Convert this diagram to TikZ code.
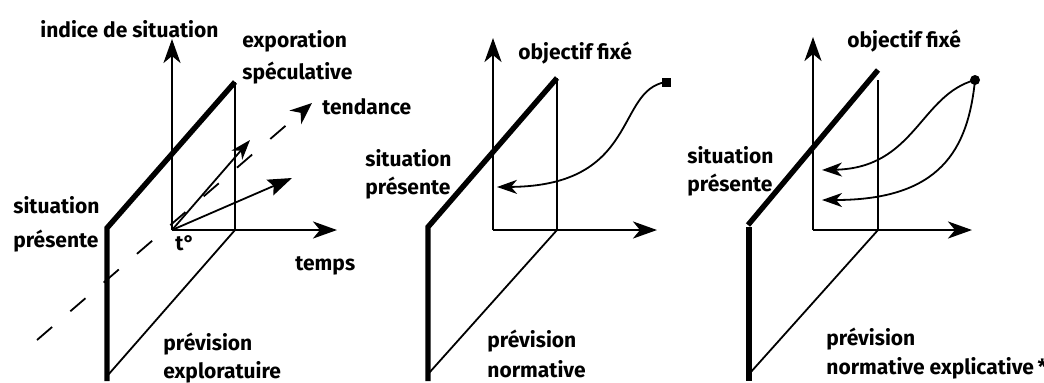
\documentclass[tikz,border=0pt]{standalone}
\usepackage{fontspec}
\setmainfont{Fira Sans}
\usetikzlibrary{arrows.meta, positioning, calc}

\begin{document}
\begin{tikzpicture}[x=0.5pt, y=-0.5pt,
  axis/.style={-{Stealth[length=12pt, width=8.5pt, inset=3.5pt]}, line width=1.4pt},
  thickedge/.style={line width=2.7pt},
  thinedge/.style={line width=0.9pt},
  lbl/.style={font=\bfseries\fontsize{10.5}{11}\selectfont, inner sep=0pt, anchor=base west},
  curvearrow/.style={-{Stealth[length=10pt, width=7pt, inset=3pt]}, line width=0.9pt}
]
  \useasboundingbox (0,0) rectangle (1044,382);

  % panel 1 : prevision exploratoire
  \coordinate (o1) at (172,230);
  \coordinate (y1) at (172,39);
  \coordinate (x1) at (337,230);
  \coordinate (a1) at (107,228);
  \coordinate (b1) at (235,82);
  \coordinate (c1) at (235,230);
  \coordinate (d1) at (108,375);
  \coordinate (tr0) at (37,340);
  \coordinate (tr1) at (312,103);
  \coordinate (v1) at (250,140);
  \coordinate (v2) at (292,178);

  \draw[thickedge] (107,381) -- (a1) -- (b1);
  \draw[thinedge] (b1) -- (c1) -- (d1);
  \draw[axis] (o1) -- (y1);
  \draw[axis] (o1) -- (x1);
  \draw[thinedge, dash pattern=on 10pt off 12pt, -{Stealth[length=11pt, width=9pt, inset=3.5pt]}] (tr0) -- (tr1);
  \draw[thinedge, -{Stealth[length=10pt, width=7pt, inset=3pt]}] (o1) -- (v1);
  \draw[thinedge, -{Stealth[length=12pt, width=8.5pt, inset=2pt]}] (o1) -- (v2);

  \node[lbl] (indice) at (40,37) {indice de situation};
  \node[lbl] (expo) at (242,47) {exporation};
  \node[lbl] (spec) at (242,79) {spéculative};
  \node[lbl] (tend) at (322,114) {tendance};
  \node[lbl] (sit1) at (13,213) {situation};
  \node[lbl] (pres1) at (13,247) {présente};
  \node[lbl] (tzero) at (175,250) {t°};
  \node[lbl] (temps) at (295,270) {temps};
  \node[lbl] (prev1) at (163,350) {prévision};
  \node[lbl] (expl) at (163,378) {exploratuire};

  % panel 2 : prevision normative
  \coordinate (o2) at (493,230);
  \coordinate (y2) at (493,38);
  \coordinate (x2) at (657,230);
  \coordinate (a2) at (428,227);
  \coordinate (b2) at (557,78);
  \coordinate (c2) at (557,230);
  \coordinate (d2) at (429,373);
  \coordinate (end2) at (497,187);

  \draw[thickedge] (428,381) -- (a2) -- (b2);
  \draw[thinedge] (b2) -- (c2) -- (d2);
  \draw[axis] (o2) -- (y2);
  \draw[axis] (o2) -- (x2);
  \node[fill, minimum size=4.5pt, inner sep=0pt] (goal2) at (666,82) {};
  \draw[curvearrow] (goal2.center) .. controls (615,90) and (640,186) .. (end2);

  \node[lbl] (obj2) at (518,59) {objectif fixé};
  \node[lbl] (sit2) at (365,166) {situation};
  \node[lbl] (pres2) at (365,194) {présente};
  \node[lbl] (prev2) at (487,347) {prévision};
  \node[lbl] (norm2) at (487,377) {normative};

  % panel 3 : prevision normative explicative
  \coordinate (o3) at (813,230);
  \coordinate (y3) at (813,37);
  \coordinate (x3) at (972,230);
  \coordinate (a3) at (748,225);
  \coordinate (b3) at (878,70);
  \coordinate (c3) at (878,80);
  \coordinate (e3) at (878,230);
  \coordinate (d3) at (750,373);
  \coordinate (end3a) at (822,170);
  \coordinate (end3b) at (822,200);

  \draw[thickedge] (a3) -- (b3);
  \draw[thickedge] (749,227) -- (749,381);
  \draw[thinedge] (c3) -- (e3) -- (d3);
  \draw[axis] (o3) -- (y3);
  \draw[axis] (o3) -- (x3);
  \node[circle, fill, minimum size=5pt, inner sep=0pt] (goal3) at (975,80) {};
  \draw[curvearrow] (goal3.center) .. controls (920,95) and (915,168) .. (end3a);
  \draw[curvearrow] (goal3.center) .. controls (968,150) and (940,200) .. (end3b);

  \node[lbl] (obj3) at (847,47) {objectif fixé};
  \node[lbl] (sit3) at (687,163) {situation};
  \node[lbl] (pres3) at (687,191) {présente};
  \node[lbl] (prev3) at (826,345) {prévision};
  \node[lbl] (norm3) at (826,374) {normative explicative\,*};
\end{tikzpicture}
\end{document}
